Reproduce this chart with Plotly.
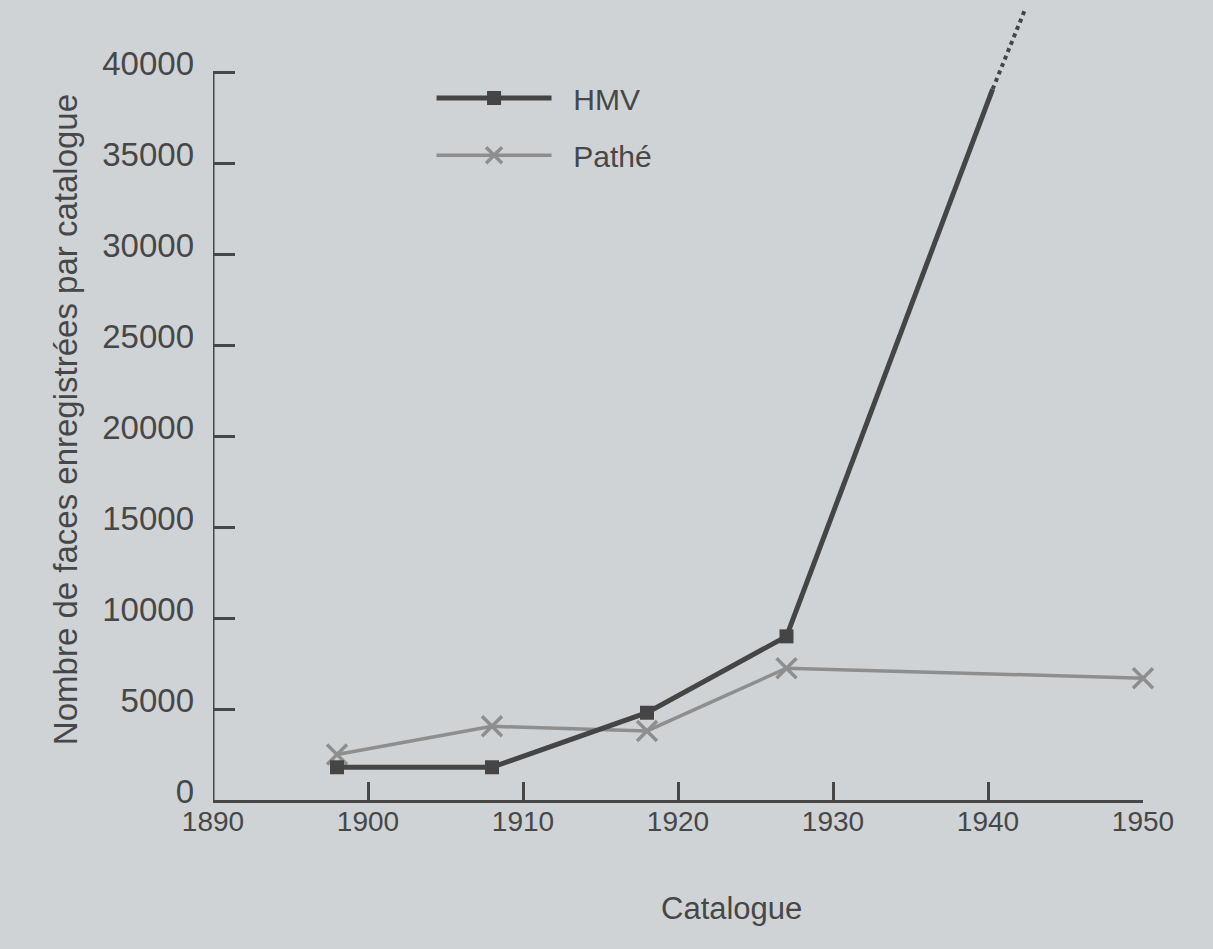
import plotly.graph_objects as go

# Data
hmv_years = [1898, 1908, 1918, 1927]
hmv_values = [1800, 1800, 4800, 9000]
hmv_growth_years = [1927, 1940.3]
hmv_growth_values = [9000, 39100]
hmv_projection_years = [1940.3, 1942.4]
hmv_projection_values = [39100, 43500]

pathe_years = [1898, 1908, 1918, 1927, 1950]
pathe_values = [2500, 4050, 3800, 7250, 6700]

x_ticks = [1890, 1900, 1910, 1920, 1930, 1940, 1950]
y_ticks = [0, 5000, 10000, 15000, 20000, 25000, 30000, 35000, 40000]

BG = "#cfd3d6"
INK = "#474747"
HMV_COL = "#454545"
PATHE_COL = "#8e8e8e"
FONT = "Liberation Sans, Arial, sans-serif"
NB = "\u00a0\u00a0"

fig = go.Figure()

fig.add_trace(go.Scatter(
    x=pathe_years, y=pathe_values, mode="lines+markers", name=NB + "Pathé",
    line=dict(color=PATHE_COL, width=3.5),
    marker=dict(symbol="x-thin", size=20, color=PATHE_COL,
                line=dict(color=PATHE_COL, width=3.5)),
    cliponaxis=False, legend="legend2",
))
fig.add_trace(go.Scatter(
    x=hmv_growth_years, y=hmv_growth_values, mode="lines", showlegend=False,
    line=dict(color=HMV_COL, width=5),
))
fig.add_trace(go.Scatter(
    x=hmv_projection_years, y=hmv_projection_values, mode="lines", showlegend=False,
    line=dict(color=HMV_COL, width=4, dash="dot"),
))
fig.add_trace(go.Scatter(
    x=hmv_years, y=hmv_values, mode="lines+markers", name=NB + "HMV",
    line=dict(color=HMV_COL, width=5),
    marker=dict(symbol="square", size=14, color=HMV_COL),
    cliponaxis=False, legend="legend",
))

# y axis line only up to 40000
fig.add_shape(type="line", xref="x", yref="y", x0=1890, x1=1890, y0=0, y1=40000,
              line=dict(color=INK, width=3), layer="above")

fig.update_layout(
    width=1213, height=949,
    margin=dict(l=213, r=70, t=0, b=149),
    paper_bgcolor=BG, plot_bgcolor=BG,
    font=dict(family=FONT, size=29, color=INK),
    showlegend=True,
    legend=dict(x=0.235, y=0.8775, xanchor="left", yanchor="middle",
                bgcolor="rgba(0,0,0,0)", font=dict(size=30), itemwidth=115),
    legend2=dict(x=0.235, y=0.806, xanchor="left", yanchor="middle",
                 bgcolor="rgba(0,0,0,0)", font=dict(size=30), itemwidth=115),
    xaxis=dict(range=[1890, 1950], tickvals=x_ticks, ticktext=[str(v) for v in x_ticks],
               showgrid=False, zeroline=False, showline=True, linecolor=INK, linewidth=3,
               ticks="inside", ticklen=18, tickwidth=3, tickcolor=INK,
               ticklabelstandoff=-6,
               tickfont=dict(size=28, color=INK)),
    yaxis=dict(range=[0, 44000], tickvals=y_ticks, ticktext=[str(v) for v in y_ticks],
               showgrid=False, zeroline=False, showline=False,
               ticks="inside", ticklen=22, tickwidth=3, tickcolor=INK,
               ticklabelstandoff=18, ticklabelshift=-9,
               tickfont=dict(size=33, color=INK)),
    annotations=[
        dict(text="Nombre de faces enregistrées par catalogue", xref="paper", yref="paper",
             x=-0.159, y=0.475, xanchor="center", yanchor="middle", textangle=-90,
             showarrow=False, font=dict(size=33, color=INK)),
        dict(text="Catalogue", xref="paper", yref="paper",
             x=0.558, y=-0.135, xanchor="center", yanchor="middle",
             showarrow=False, font=dict(size=31, color=INK)),
    ],
)

fig.write_html(
    "out.html",
    config={"displayModeBar": False},
    post_script="document.body.style.margin='0';document.body.style.background='%s';" % BG,
)
